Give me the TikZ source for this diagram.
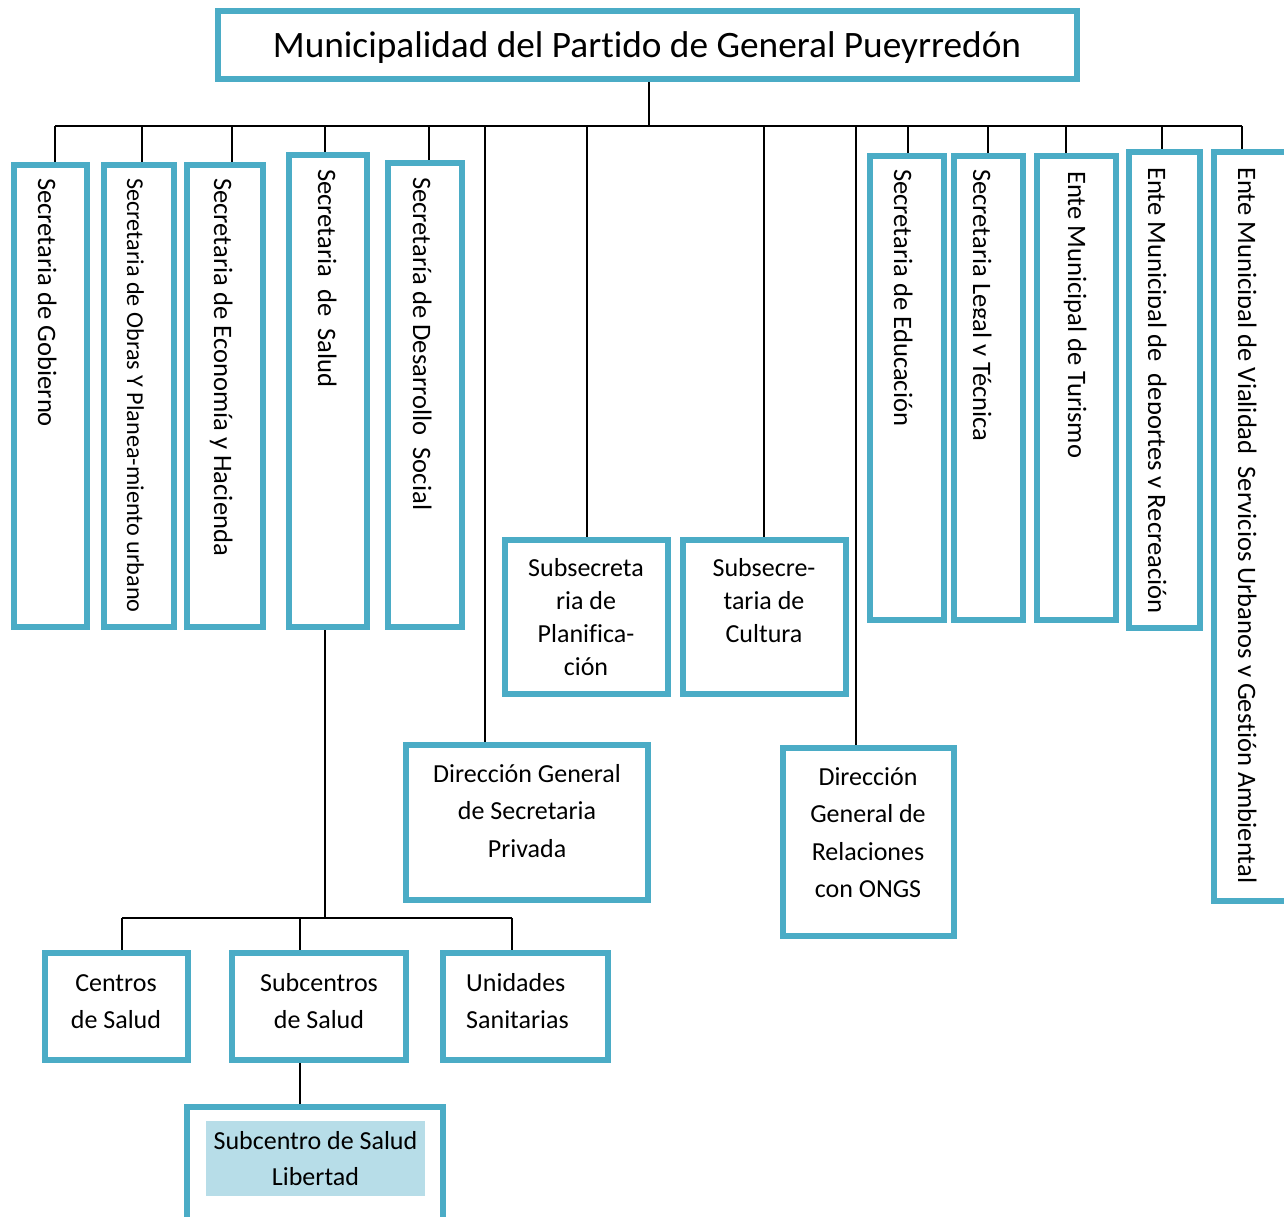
\documentclass[tikz,border=0pt]{standalone}
\usepackage{fontspec}
\setmainfont{Carlito}[Ligatures=NoCommon]
\definecolor{boxblue}{HTML}{4BACC6}
\definecolor{marklight}{HTML}{B7DDE8}

\begin{document}
\begin{tikzpicture}[x=1pt, y=-1pt]
	% Define styles
	\tikzset{
		block/.style={rectangle, draw=boxblue, line width=6pt, inner sep=0pt},
		vtext/.style={rotate=-90, anchor=base west, inner sep=0pt, font=\fontsize{26.6}{30}\selectfont},
		htext/.style={align=center, inner sep=0pt, font=\fontsize{26}{37}\selectfont},
		line/.style={draw, line width=1.6pt}
	}
	\useasboundingbox (0,0) rectangle (1284,1217);
	\clip (0,0) rectangle (1284,1217);
	\fill[white] (0,0) rectangle (1284,1217);
	
	% Boxes
	\node[block, minimum width=859, minimum height=68] (muni) at (647.5,45) {};
	
	\node[block, minimum width=73, minimum height=462] (gob) at (50.5,396) {};
	\node[block, minimum width=70, minimum height=462] (obras) at (139,396) {};
	\node[block, minimum width=76, minimum height=462] (econ) at (225,396) {};
	\node[block, minimum width=78, minimum height=472] (salud) at (328,391) {};
	\node[block, minimum width=74, minimum height=464] (desa) at (425,395) {};
	\node[block, minimum width=74, minimum height=464] (educ) at (907,388) {};
	\node[block, minimum width=69, minimum height=464] (legal) at (988.5,388) {};
	\node[block, minimum width=79, minimum height=464] (tur) at (1076.5,388) {};
	\node[block, minimum width=71, minimum height=476] (dep) at (1164.5,390) {};
	\node[block, minimum width=73, minimum height=749] (vial) at (1250.5,526.5) {};
	
	\node[block, minimum width=163, minimum height=154] (plan) at (586.5,617) {};
	\node[block, minimum width=163, minimum height=154] (cult) at (764.5,617) {};
	\node[block, minimum width=242, minimum height=155] (priv) at (527,822.5) {};
	\node[block, minimum width=171, minimum height=188] (ongs) at (868.5,842) {};
	
	\node[block, minimum width=143, minimum height=107] (centros) at (116.5,1006.5) {};
	\node[block, minimum width=174, minimum height=107] (subc) at (319,1006.5) {};
	\node[block, minimum width=165, minimum height=107] (unid) at (525.5,1006.5) {};
	\node[block, minimum width=256, minimum height=130] (lib) at (315,1172) {};
	
	% Texts
	\node[anchor=base, inner sep=0pt, font=\fontsize{37.3}{44}\selectfont] (muniT) at (647,58) {Municipalidad del Partido de General Pueyrredón};
	
	\node[vtext] (gobT) at (38,178) {Secretaria de Gobierno};
	\node[vtext, font=\fontsize{24.2}{28}\selectfont] (obrasT) at (127,178) {Secretaria de Obras Y Planea-miento urbano};
	\node[vtext] (econT) at (214,178) {Secretaria de Economía y Hacienda};
	\node[vtext] (saludT) at (318,169) {Secretaria\ \ de\ \ Salud};
	\node[vtext] (desaT) at (413,177) {Secretaría de Desarrollo\ \ Social};
	\node[vtext] (educT) at (894,169) {Secretaria de Educación};
	\begin{scope}
		\clip (973,150) rectangle (1030,630);
		\node[vtext] (legalT) at (973,169) {Secretaria Legal y Técnica};
	\end{scope}
	\node[vtext] (turT) at (1068,171) {Ente Municipal de Turismo};
	\begin{scope}
		\clip (1148,150) rectangle (1210,630);
		\node[vtext] (depT) at (1148,167) {Ente Municipal de\ \ deportes y Recreación};
	\end{scope}
	\begin{scope}
		\clip (1238,150) rectangle (1284,900);
		\node[vtext] (vialT) at (1238,167) {Ente Municipal de Vialidad\ \ Servicios Urbanos y Gestión Ambiental};
	\end{scope}
	
	\node[htext, font=\fontsize{26}{33}\selectfont] (planT) at (586,617.5) {Subsecreta\\ria de\\Planifica-\\ción};
	\node[htext, font=\fontsize{26}{33}\selectfont] (cultT) at (764,601) {Subsecre-\\taria de\\Cultura};
	\node[htext, font=\fontsize{26}{37.5}\selectfont] (privT) at (527,811) {Dirección General\\de Secretaria\\Privada};
	\node[htext, font=\fontsize{26}{37.5}\selectfont] (ongsT) at (868,832.5) {Dirección\\General de\\Relaciones\\con ONGS};
	\node[htext] (centrosT) at (116,1002) {Centros\\de Salud};
	\node[htext] (subcT) at (319,1001.5) {Subcentros\\de Salud};
	\node[htext, align=left] (unidT) at (517.5,1001.5) {Unidades\\Sanitarias};
	\node[htext, fill=marklight, minimum width=219, minimum height=75, font=\fontsize{26}{36}\selectfont] (libT) at (315.5,1158.5) {Subcentro de Salud\\Libertad};
	
	% Lines
	\coordinate (bus) at (649,126);
	\coordinate (busL) at (55,126);
	\coordinate (busR) at (1242,126);
	\draw[line] (bus |- muni.south) -- (bus);
	\draw[line] (busL) -- (busR);
	\foreach \x/\n in {55/gob, 142/obras, 232/econ, 325/salud, 429/desa, 485/priv, 587/plan, 764/cult, 856/ongs, 908/educ, 988/legal, 1066/tur, 1162/dep, 1242/vial}
		\draw[line] (busL -| \x,0) -- (\n.north -| \x,0);
	
	\coordinate (saludBus) at (325,918);
	\coordinate (subL) at (122,918);
	\coordinate (subR) at (512,918);
	\draw[line] (saludBus |- salud.south) -- (saludBus);
	\draw[line] (subL) -- (subR);
	\foreach \x/\n in {122/centros, 300/subc, 512/unid}
		\draw[line] (subL -| \x,0) -- (\n.north -| \x,0);
	\draw[line] (subc.south -| 300,0) -- (lib.north -| 300,0);
	
\end{tikzpicture}
\end{document}
